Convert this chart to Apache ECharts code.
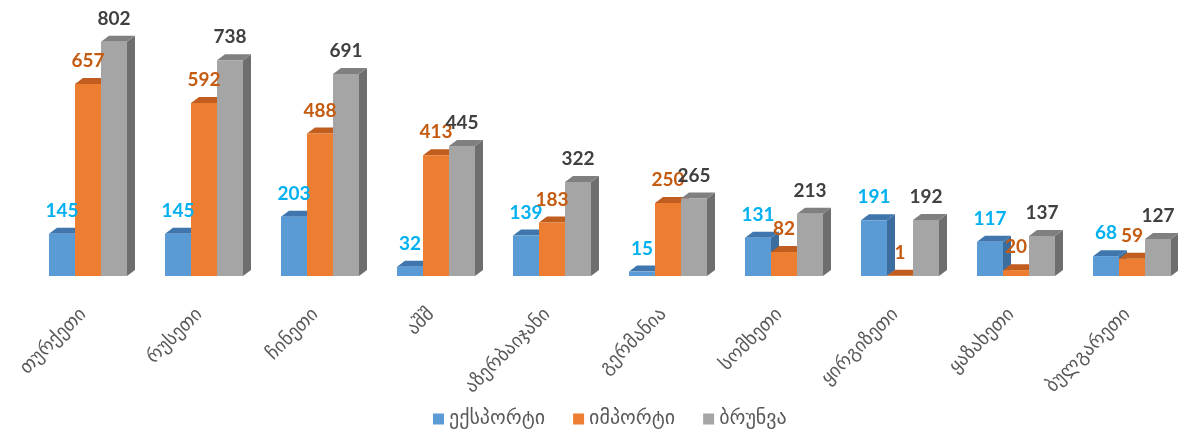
<!DOCTYPE html>
<html>
<head>
<meta charset="utf-8">
<script src="https://cdn.jsdelivr.net/npm/echarts@6/dist/echarts.min.js"></script>
<style>
  html, body { margin: 0; padding: 0; background: #fff; }
  #chart { width: 1178px; height: 433px; }
</style>
</head>
<body>
<div id="chart"></div>
<script>
// ქვეყნები
var countries = ['თურქეთი', 'რუსეთი', 'ჩინეთი', 'აშშ', 'აზერბაიჯანი', 'გერმანია', 'სომხეთი', 'ყირგიზეთი', 'ყაზახეთი', 'ბულგარეთი'];
var exportVals = [145, 145, 203, 32, 139, 15, 131, 191, 117, 68];
var importVals = [657, 592, 488, 413, 183, 250, 82, 1, 20, 59];
var turnoverVals = [802, 738, 691, 445, 322, 265, 213, 192, 137, 127];
var seriesNames = ['ექსპორტი', 'იმპორტი', 'ბრუნვა'];

// 3D look: depth offsets (px)
var DX = 8, DY = 6;

var palette = [
  { front: '#5b9bd5', top: '#3f76ad', side: '#3b6e9f', label: '#00b0f0' },
  { front: '#ed7d31', top: '#c05d1f', side: '#b35a1e', label: '#c55a11' },
  { front: '#a5a5a5', top: '#808080', side: '#6e6e6e', label: '#404040' }
];

/* renderer for one "3D" bar series */
function make3D(idx) {
  var c = palette[idx];
  return function (params, api) {
    var cat = api.value(0), val = api.value(1);
    var base = api.coord([cat, 0]);
    var top = api.coord([cat, val]);
    var band = api.size([1, 0])[0];
    var bw = 26;
    var x0 = base[0] - 1.5 * bw - DX / 2 + idx * bw;
    var ty = top[1], by = base[1];
    return {
      type: 'group',
      children: [
        {
          type: 'polygon', z2: idx * 3,
          shape: { points: [[x0 + bw, ty], [x0 + bw + DX, ty - DY], [x0 + bw + DX, by - DY], [x0 + bw, by]] },
          style: { fill: c.side }
        },
        {
          type: 'polygon', z2: idx * 3 + 1,
          shape: { points: [[x0, ty], [x0 + bw, ty], [x0 + bw + DX, ty - DY], [x0 + DX, ty - DY]] },
          style: { fill: c.top }
        },
        {
          type: 'rect', z2: idx * 3 + 2,
          shape: { x: x0, y: ty, width: bw, height: by - ty },
          style: { fill: c.front }
        },
        {
          type: 'text', z2: 100,
          style: {
            x: x0 + bw / 2, y: ty - 23,
            text: String(val),
            fill: c.label,
            font: 'bold 19px Lato, "Open Sans", sans-serif',
            align: 'center', verticalAlign: 'middle'
          }
        }
      ]
    };
  };
}

function buildSeries(idx, vals) {
  return {
    name: seriesNames[idx],
    type: 'custom',
    renderItem: make3D(idx),
    itemStyle: { color: palette[idx].front },
    encode: { x: 0, y: 1 },
    data: vals.map(function (v, i) { return [i, v]; })
  };
}

var chart = echarts.init(document.getElementById('chart'));
chart.setOption({
  animation: false,
  grid: { left: 34, right: -16, top: 13, bottom: 157, outerBoundsMode: 'none' },
  legend: {
    bottom: -1,
    left: 428,
    icon: 'rect',
    itemWidth: 11,
    itemHeight: 11,
    itemGap: 28,
    textStyle: { color: '#595959', fontSize: 20, fontFamily: '"DejaVu Sans"' },
    data: seriesNames
  },
  xAxis: {
    type: 'category',
    data: countries,
    axisLine: { show: false },
    axisTick: { show: false },
    axisLabel: {
      interval: 0,
      rotate: 45,
      margin: 27,
      padding: [0, 12, 0, 0],
      color: '#595959',
      fontSize: 19,
      fontFamily: '"DejaVu Sans"'
    }
  },
  yAxis: {
    type: 'value',
    min: 0,
    max: 900,
    show: false,
    splitLine: { show: false }
  },
  series: [
    buildSeries(0, exportVals),
    buildSeries(1, importVals),
    buildSeries(2, turnoverVals)
  ]
});
</script>
</body>
</html>
